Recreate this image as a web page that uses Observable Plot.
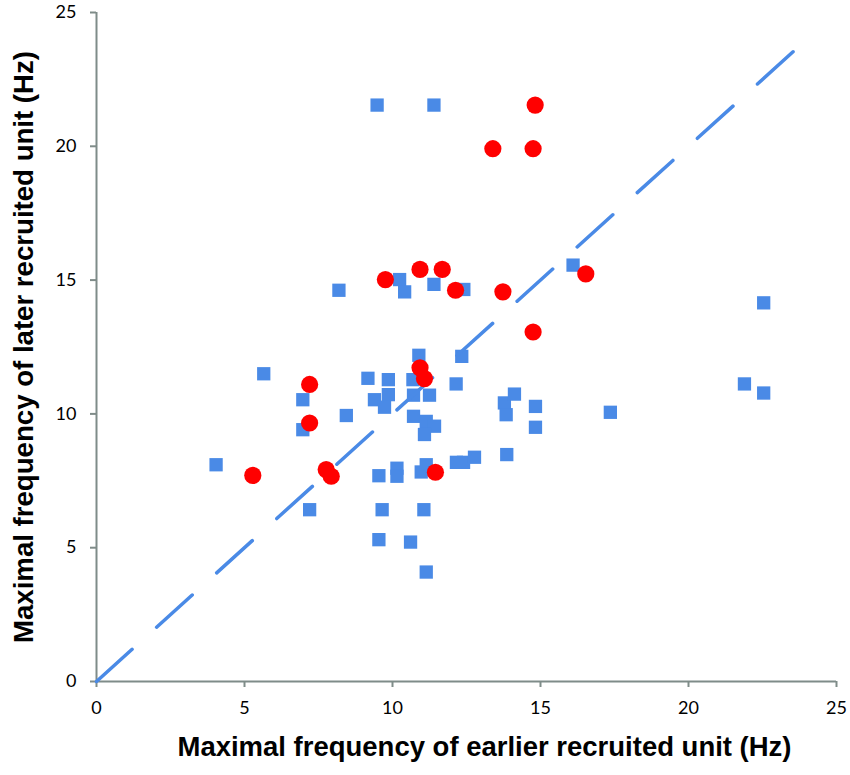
<!DOCTYPE html>
<html>
<head>
<meta charset="utf-8">
<script src="https://cdn.jsdelivr.net/npm/d3@7"></script>
<script src="https://cdn.jsdelivr.net/npm/@observablehq/plot@0.6"></script>
<style>
  body { margin: 0; background: #fff; }
</style>
</head>
<body>
<div id="chart"></div>
<script>
const xTicks = [0, 5, 10, 15, 20, 25];
const yTicks = [0, 5, 10, 15, 20, 25];
const xTitle = "Maximal frequency of earlier recruited unit (Hz)";
const yTitle = "Maximal frequency of later recruited unit (Hz)";

// Blue squares
const blueX = [4.04,5.65,6.97,6.97,7.20,8.19,8.44,9.17,9.39,9.48,9.86,9.86,9.73,9.54,9.65,9.54,10.15,10.15,10.24,10.41,10.61,10.89,10.69,10.71,10.71,11.14,11.42,11.08,11.25,11.14,10.97,11.06,11.14,11.40,11.40,12.41,12.34,12.15,12.16,12.40,12.77,13.78,14.12,13.84,13.86,14.83,14.83,16.10,17.36,21.89,22.54,22.54];
const blueY = [8.10,11.50,10.53,9.41,6.42,14.62,9.94,11.33,10.53,21.54,11.28,10.72,10.25,7.69,6.42,5.30,7.97,7.67,15.02,14.56,5.21,12.19,11.28,10.70,9.91,9.72,9.54,9.23,10.70,8.10,7.83,6.42,4.09,21.54,14.84,14.65,12.15,11.12,8.19,8.19,8.38,10.41,10.74,9.97,8.48,10.28,9.50,15.56,10.06,11.12,14.15,10.78];

// Red circles
const redX = [5.28,7.20,7.20,7.76,7.93,9.76,10.93,11.68,12.13,13.73,16.53,14.75,14.82,13.39,14.75,10.93,11.08,11.45];
const redY = [7.70,11.10,9.66,7.92,7.67,15.02,15.40,15.40,14.62,14.56,15.23,13.06,21.54,19.91,19.91,11.72,11.32,7.82];

// Identity (diagonal) line endpoints
const diagX = [0, 23.6];
const diagY = [0, 23.6];

const blue = blueX.map((x, i) => ({x, y: blueY[i]}));
const red = redX.map((x, i) => ({x, y: redY[i]}));
const diag = diagX.map((x, i) => ({x, y: diagY[i]}));

const axisColor = "#7f8c89";
const blueColor = "#4a8ae6";
const redColor = "#ff0000";

const chart = Plot.plot({
  width: 850,
  height: 775,
  marginLeft: 96,
  marginRight: 14,
  marginTop: 12,
  marginBottom: 94,
  style: {fontFamily: "Lato, 'Open Sans', sans-serif", fontSize: "18px", color: "#000", background: "#fff"},
  x: {domain: [0, 25]},
  y: {domain: [0, 25]},
  marks: [
    Plot.ruleY([0], {x1: 0, x2: 25, stroke: axisColor, strokeWidth: 2}),
    Plot.ruleX([0], {y1: 0, y2: 25, stroke: axisColor, strokeWidth: 2}),
    Plot.axisX({ticks: xTicks, tickSize: 6, tickPadding: 14, stroke: axisColor, strokeWidth: 2, label: null, fontSize: 18}),
    Plot.axisY({ticks: yTicks, tickSize: 6, tickPadding: 14, stroke: axisColor, strokeWidth: 2, label: null, fontSize: 18}),
    Plot.dot(blue, {x: "x", y: "y", symbol: "square", r: 7.5, fill: blueColor, stroke: "none"}),
    Plot.line(diag, {x: "x", y: "y", stroke: blueColor, strokeWidth: 3.5, strokeDasharray: "48,33", strokeLinecap: "round"}),
    Plot.dot(red, {x: "x", y: "y", symbol: "circle", r: 8.6, fill: redColor, stroke: "none"}),
    Plot.text([xTitle], {frameAnchor: "bottom", dx: 18, dy: 74, text: d => d, fontSize: 28, fontWeight: "bold", fontFamily: "'Liberation Sans', Arial, sans-serif", fill: "#000"}),
    Plot.text([yTitle], {frameAnchor: "left", dx: -72, rotate: -90, text: d => d, fontSize: 28, fontWeight: "bold", fontFamily: "'Liberation Sans', Arial, sans-serif", fill: "#000"})
  ]
});

document.getElementById("chart").appendChild(chart);

// Compress the bold titles to the condensed width of the reference
const textGroups = chart.querySelectorAll('g[aria-label="text"]');
const fit = (g, len) => {
  if (!g) return;
  g.setAttribute("text-anchor", "start");
  g.querySelectorAll("text").forEach(t => {
    t.setAttribute("text-anchor", "start");
    t.setAttribute("x", -len / 2);
    t.setAttribute("textLength", len);
    t.setAttribute("lengthAdjust", "spacingAndGlyphs");
  });
};
fit(textGroups[0], 614);
fit(textGroups[1], 592);
</script>
</body>
</html>
